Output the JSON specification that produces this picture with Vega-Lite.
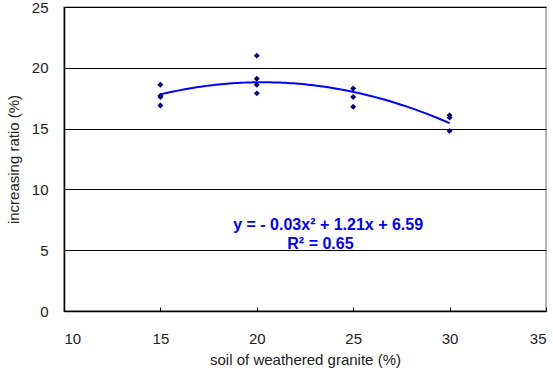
{
  "$schema": "https://vega.github.io/schema/vega-lite/v6.json",
  "width": 482,
  "height": 304,
  "autosize": {"type": "none"},
  "padding": {"left": 64, "top": 7, "right": 7, "bottom": 62},
  "background": "white",
  "config": {
    "view": {"stroke": "#a0a0a0", "strokeWidth": 1.5},
    "font": "Liberation Sans"
  },
  "datasets": {
    "pts": [
      {"soil": 15, "ratio": 18.6}, {"soil": 15, "ratio": 17.7}, {"soil": 15, "ratio": 17.6}, {"soil": 15, "ratio": 16.9},
      {"soil": 20, "ratio": 21.0}, {"soil": 20, "ratio": 19.1}, {"soil": 20, "ratio": 18.6}, {"soil": 20, "ratio": 17.9},
      {"soil": 25, "ratio": 18.3}, {"soil": 25, "ratio": 17.6}, {"soil": 25, "ratio": 16.8},
      {"soil": 30, "ratio": 16.1}, {"soil": 30, "ratio": 15.9}, {"soil": 30, "ratio": 14.8}
    ]
  },
  "layer": [
    {
      "data": {"name": "pts"},
      "mark": {"type": "point", "shape": "diamond", "filled": true, "color": "#000080", "size": 35, "opacity": 1},
      "encoding": {
        "x": {
          "field": "soil", "type": "quantitative",
          "scale": {"domain": [10, 35], "nice": false, "zero": false},
          "axis": {
            "title": "soil of weathered granite (%)", "values": [10, 15, 20, 25, 30, 35],
            "grid": false, "domainColor": "black", "domainWidth": 1.5, "tickColor": "black",
            "tickSize": -4, "labelPadding": 24, "labelFontSize": 15, "labelColor": "#222",
            "titleFontSize": 15, "titleFontWeight": "normal", "titleColor": "#222", "titlePadding": 6
          }
        },
        "y": {
          "field": "ratio", "type": "quantitative",
          "scale": {"domain": [0, 25], "nice": false},
          "axis": {
            "title": "increasing ratio (%)", "values": [0, 5, 10, 15, 20, 25],
            "grid": true, "gridColor": "black", "gridWidth": 1.2, "gridOpacity": 1,
            "domainColor": "black", "domainWidth": 1.5, "ticks": false,
            "labelPadding": 16, "labelFontSize": 15, "labelColor": "#222",
            "titleFontSize": 15, "titleFontWeight": "normal", "titleColor": "#222", "titlePadding": 10
          }
        }
      }
    },
    {
      "data": {"name": "pts"},
      "transform": [
        {"regression": "ratio", "on": "soil", "method": "poly", "order": 2, "extent": [15, 30]}
      ],
      "mark": {"type": "line", "color": "#0000ff", "strokeWidth": 2},
      "encoding": {
        "x": {"field": "soil", "type": "quantitative"},
        "y": {"field": "ratio", "type": "quantitative"}
      }
    },
    {
      "data": {"values": [{"label": "y = - 0.03x\u00b2 + 1.21x + 6.59"}]},
      "mark": {"type": "text", "color": "#0000ff", "fontWeight": "bold", "fontSize": 16, "align": "center", "baseline": "middle"},
      "encoding": {
        "x": {"datum": 23.7, "type": "quantitative"},
        "y": {"datum": 7.1, "type": "quantitative"},
        "text": {"field": "label"}
      }
    },
    {
      "data": {"values": [{"label": "R\u00b2 = 0.65"}]},
      "mark": {"type": "text", "color": "#0000ff", "fontWeight": "bold", "fontSize": 16, "align": "center", "baseline": "middle"},
      "encoding": {
        "x": {"datum": 23.3, "type": "quantitative"},
        "y": {"datum": 5.5, "type": "quantitative"},
        "text": {"field": "label"}
      }
    }
  ]
}
